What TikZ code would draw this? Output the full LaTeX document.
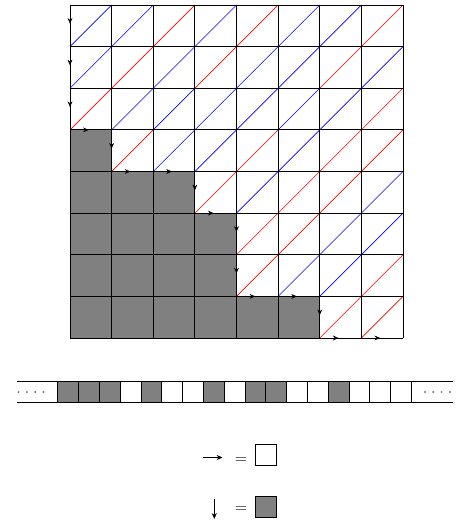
\documentclass[tikz,border=0pt]{standalone}
\usetikzlibrary{arrows.meta,decorations.markings}
\colorlet{cellgray}{black!50}
\begin{document}
\begin{tikzpicture}[x=0.75pt,y=-0.75pt,
  gridline/.style={line width=0.6pt,black},
  diagline/.style={line width=0.5pt},
  midarrow/.style={postaction={decorate},decoration={markings,
     mark=at position 0.45 with {\arrow{Stealth[length=4.2pt,width=3.6pt]}}}},
  stripbox/.style={draw=black,line width=0.6pt},
  legendbox/.style={draw=black,line width=0.6pt,minimum size=15.6pt,inner sep=0pt},
  legendarrow/.style={line width=0.7pt,-{Stealth[length=4.4pt,width=3.8pt]}},
  eqsign/.style={font=\fontsize{12.5}{14}\selectfont,inner sep=0pt}]
\useasboundingbox (0,0) rectangle (461,521);
% ---- grid ----
\begin{scope}[shift={(52.5pt,-3.75pt)},x=31.21875pt,y=-31.21875pt]
  \fill[cellgray] (0,3) -- (1,3) -- (1,4) -- (3,4) -- (3,5) -- (4,5) -- (4,7)
     -- (6,7) -- (6,8) -- (0,8) -- cycle;
  \foreach \r/\s/\cols in {
     0/0/{blue,blue,red,blue,red,blue,blue,red},
     1/0/{blue,red,blue,red,blue,blue,red,blue},
     2/0/{red,blue,blue,blue,blue,blue,blue,red},
     3/1/{red,blue,blue,red,blue,red,red},
     4/3/{red,blue,red,red,blue},
     5/4/{red,red,blue,blue},
     6/4/{red,blue,blue,red},
     7/6/{red,red}}{
    \foreach \cc [count=\c from \s] in \cols {
      \draw[diagline,\cc] (\c,\r+1) -- (\c+1,\r);
    }
  }
  \foreach \i in {0,...,8}{
    \draw[gridline] (\i,0) -- (\i,8);
    \draw[gridline] (0,\i) -- (8,\i);
  }
  % staircase path with arrows
  \foreach \ax/\ay/\bx/\by in {0/0/0/1,0/1/0/2,0/2/0/3,0/3/1/3,1/3/1/4,
     1/4/2/4,2/4/3/4,3/4/3/5,3/5/4/5,4/5/4/6,4/6/4/7,4/7/5/7,5/7/6/7,
     6/7/6/8,6/8/7/8,7/8/8/8}{
    \coordinate (pa) at (\ax,\ay);
    \coordinate (pb) at (\bx,\by);
    \path[midarrow] (pa) -- (pb);
  }
\end{scope}
% ---- strip ----
\coordinate (sl) at (17,381.6);
\coordinate (sr) at (452.7,381.6);
\coordinate (sl2) at (17,402.4);
\coordinate (sr2) at (452.7,402.4);
\foreach \f [count=\i from 0] in {cellgray,cellgray,cellgray,white,cellgray,white,white,cellgray,white,cellgray,cellgray,white,white,cellgray,white,white,white}{
  \filldraw[stripbox,fill=\f] (57.7+20.8*\i,381.6) rectangle (57.7+20.8*\i+20.8,402.4);
}
\draw[line width=0.7pt] (sl) -- (sr);
\draw[line width=0.7pt] (sl2) -- (sr2);
\foreach \dx in {18.6,26.9,35.2,43.5,425,433.3,441.6,449.9}{
  \fill[black!55] (\dx,392) circle (1.1);
}
% ---- legend ----
\coordinate (ra) at (203,457.5);
\coordinate (rb) at (222.5,457.5);
\draw[legendarrow] (ra) -- (rb);
\node[eqsign] (eq1) at (241,461) {$=$};
\node[legendbox,fill=white] (wbox) at (266,454.5) {};
\coordinate (da) at (214.3,499);
\coordinate (db) at (214.3,519);
\draw[legendarrow] (da) -- (db);
\node[eqsign] (eq2) at (241,510) {$=$};
\node[legendbox,fill=cellgray] (gbox) at (266,506.5) {};
\end{tikzpicture}
\end{document}
